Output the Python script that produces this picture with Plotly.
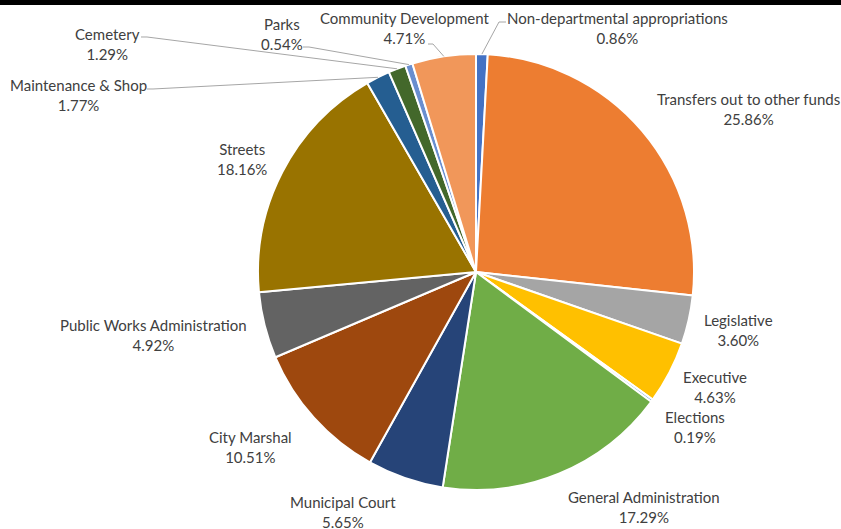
import math
import plotly.graph_objects as go

categories = ["Non-departmental appropriations", "Transfers out to other funds", "Legislative",
              "Executive", "Elections", "General Administration", "Municipal Court", "City Marshal",
              "Public Works Administration", "Streets", "Maintenance & Shop", "Cemetery", "Parks",
              "Community Development"]
values = [0.86, 25.86, 3.60, 4.63, 0.19, 17.29, 5.65, 10.51, 4.92, 18.16, 1.77, 1.29, 0.54, 4.71]
colors = ["#4472C4", "#ED7D31", "#A5A5A5", "#FFC000", "#5B9BD5", "#70AD47", "#264478",
          "#9E480E", "#636363", "#997300", "#255E91", "#43682B", "#698ED0", "#F1975A"]

W, H = 841, 529
CX, CY, R = 476, 272, 218

# label block centres (pixels) - layout
label_pos = {
    "Non-departmental appropriations": (617, 28),
    "Transfers out to other funds": (748, 109),
    "Legislative": (738, 330),
    "Executive": (715, 387),
    "Elections": (695, 427),
    "General Administration": (644, 507),
    "Municipal Court": (343, 512),
    "City Marshal": (250, 447),
    "Public Works Administration": (153, 335),
    "Streets": (242, 159),
    "Maintenance & Shop": (78, 95),
    "Cemetery": (107, 44),
    "Parks": (282, 34),
    "Community Development": (404, 28),
}
# leader line starting points (pixels) - layout
leader_start = {
    "Non-departmental appropriations": [(506, 22), (499, 22)],
    "Cemetery": [(141, 37), (147, 37)],
    "Parks": [(303, 47), (309, 47)],
    "Maintenance & Shop": [(147, 89), (153, 89)],
    "Community Development": [(428, 44), (433, 44)],
}

def px(x):
    return x / W

def py(y):
    return 1 - y / H

fig = go.Figure(go.Pie(
    labels=categories, values=values, sort=False, direction="clockwise", rotation=0,
    marker=dict(colors=colors, line=dict(color="white", width=2)),
    textinfo="none", hoverinfo="label+percent",
    domain=dict(x=[px(CX - R), px(CX + R)], y=[py(CY + R), py(CY - R)]),
    showlegend=False,
))

total = sum(values)
annotations = []
shapes = [dict(type="rect", xref="paper", yref="paper", x0=0, x1=1, y0=py(5), y1=1.0,
               fillcolor="black", line=dict(width=0), layer="above")]
cum = 0.0
for cat, v in zip(categories, values):
    mid = (cum + v / 2) / total
    cum += v
    lx, ly = label_pos[cat]
    annotations.append(dict(
        x=px(lx), y=py(ly), xref="paper", yref="paper", showarrow=False,
        text=f"{cat}<br>{v:.2f}%", xanchor="center", yanchor="middle", align="center",
        font=dict(family="Lato", size=15, color="#404040")))
    if cat in leader_start:
        th = 2 * math.pi * mid
        ex = CX + R * math.sin(th)
        ey = CY - R * math.cos(th)
        pts = leader_start[cat] + [(ex, ey)]
        path = "M " + " L ".join(f"{px(x):.5f},{py(y):.5f}" for x, y in pts)
        shapes.append(dict(type="path", xref="paper", yref="paper", path=path,
                           line=dict(color="#A6A6A6", width=1)))

fig.update_layout(
    width=W, height=H, margin=dict(l=0, r=0, t=0, b=0),
    paper_bgcolor="white", plot_bgcolor="white",
    annotations=annotations, shapes=shapes,
)
fig.write_html("out.html")
